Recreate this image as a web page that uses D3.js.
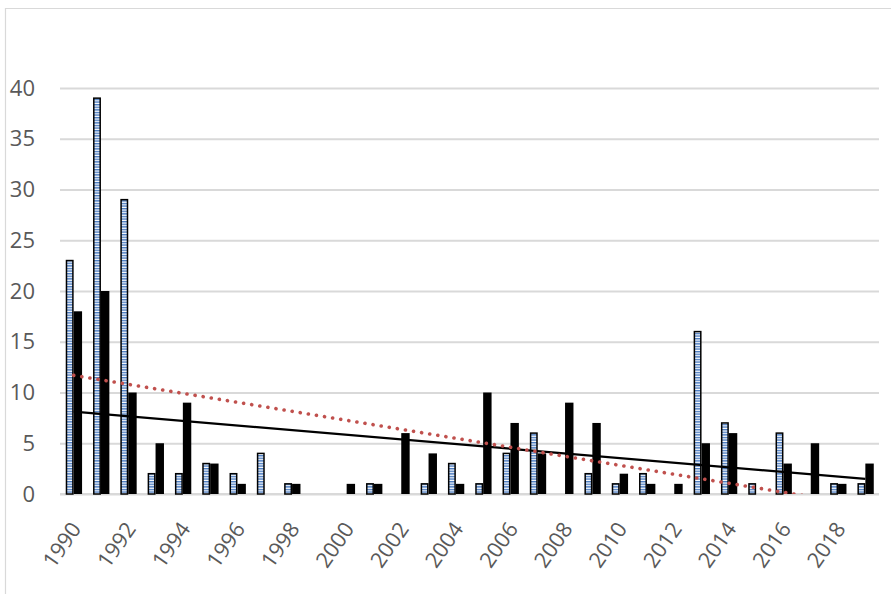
<!DOCTYPE html>
<html>
<head>
<meta charset="utf-8">
<script src="https://cdn.jsdelivr.net/npm/d3@7/dist/d3.min.js"></script>
<style>
  html, body { margin: 0; padding: 0; background: #fff; }
  svg { display: block; }
  text { font-family: "Open Sans", "Liberation Sans", sans-serif; fill: #595959; }
</style>
</head>
<body>
<svg id="chart" width="891" height="594"></svg>
<script>
// ---- data ----
const years = d3.range(1990, 2020).map(String);
const seriesStriped = [23, 39, 29, 2, 2, 3, 2, 4, 1, 0, 0, 1, 0, 1, 3, 1, 4, 6, 0, 2, 1, 2, 0, 16, 7, 1, 6, 0, 1, 1];
const seriesBlack   = [18, 20, 10, 5, 9, 3, 1, 0, 1, 0, 1, 1, 6, 4, 1, 10, 7, 4, 9, 7, 2, 1, 1, 5, 6, 0, 3, 5, 1, 3];
const yTicks = [0, 5, 10, 15, 20, 25, 30, 35, 40];
const xTickLabels = years.filter((d, i) => i % 2 === 0);

// ---- layout ----
const svg = d3.select("#chart");
const plot = { left: 60, right: 879, top: 88, bottom: 494 };

const x = d3.scaleBand().domain(years).range([plot.left, plot.right]).paddingInner(0).paddingOuter(0);
const y = d3.scaleLinear().domain([0, 40]).range([plot.bottom, plot.top]);

const defs = svg.append("defs");
const pat = defs.append("pattern")
  .attr("id", "stripes").attr("patternUnits", "userSpaceOnUse")
  .attr("width", 4).attr("height", 2.6);
pat.append("rect").attr("width", 4).attr("height", 2.6).attr("fill", "#ffffff");
pat.append("rect").attr("y", 0).attr("width", 4).attr("height", 1.4).attr("fill", "#4A7BC0");

defs.append("clipPath").attr("id", "plotclip")
  .append("rect").attr("x", plot.left).attr("y", 0)
  .attr("width", plot.right - plot.left).attr("height", plot.bottom);

// chart frame (partially cropped)
svg.append("path")
  .attr("d", "M5.5,600 L5.5,8.5 L900,8.5")
  .attr("fill", "none").attr("stroke", "#d9d9d9").attr("stroke-width", 1.2);

// gridlines
const yAxis = d3.axisLeft(y).tickValues(yTicks)
  .tickSize(-(plot.right - plot.left)).tickPadding(24).tickFormat(d3.format("d"));
const ga = svg.append("g").attr("transform", `translate(${plot.left},0)`).call(yAxis);
ga.select(".domain").remove();
ga.selectAll(".tick line").attr("stroke", "#d9d9d9").attr("stroke-width", 1.8);
ga.selectAll(".tick text").attr("font-size", 22).attr("fill", "#595959").attr("x", -25)
  .attr("font-family", "'Open Sans', sans-serif");

// x axis line
svg.append("line")
  .attr("x1", plot.left).attr("x2", plot.right)
  .attr("y1", y(0)).attr("y2", y(0))
  .attr("stroke", "#d9d9d9").attr("stroke-width", 2);

// bars
const barW = x.bandwidth() * 0.29;
const gBars = svg.append("g");
years.forEach((yr, i) => {
  const cx = x(yr) + x.bandwidth() / 2;
  const a = seriesStriped[i], b = seriesBlack[i];
  if (a > 0) {
    gBars.append("rect")
      .attr("x", cx - barW + 0.75).attr("y", y(a))
      .attr("width", barW - 1.5).attr("height", y(0) - y(a))
      .attr("fill", "url(#stripes)").attr("stroke", "#000").attr("stroke-width", 1.5);
  }
  if (b > 0) {
    gBars.append("rect")
      .attr("x", cx).attr("y", y(b))
      .attr("width", barW + 0.5).attr("height", y(0) - y(b))
      .attr("fill", "#000");
  }
});

// linear trendlines (least squares over category index 1..n)
function linreg(vals) {
  const n = vals.length;
  const xs = vals.map((v, i) => i + 1);
  const mx = d3.mean(xs), my = d3.mean(vals);
  let sxy = 0, sxx = 0;
  xs.forEach((xv, i) => { sxy += (xv - mx) * (vals[i] - my); sxx += (xv - mx) * (xv - mx); });
  const m = sxy / sxx, c = my - m * mx;
  return k => m * k + c;
}
const px = i => x(years[i]) + x.bandwidth() / 2;
const line = d3.line().x(d => px(d[0])).y(d => y(d[1]));

const fB = linreg(seriesBlack);
const fA = linreg(seriesStriped);
const n = years.length;

svg.append("path")
  .datum([[0, fB(1)], [n - 1, fB(n)]])
  .attr("d", line)
  .attr("fill", "none").attr("stroke", "#000").attr("stroke-width", 2.2)
  .attr("clip-path", "url(#plotclip)");

svg.append("path")
  .datum([[0, fA(1)], [n - 1, fA(n)]])
  .attr("d", line)
  .attr("fill", "none").attr("stroke", "#C0504D").attr("stroke-width", 3.6)
  .attr("stroke-linecap", "round").attr("stroke-dasharray", "0.1 8.1")
  .attr("clip-path", "url(#plotclip)");

// x tick labels
svg.append("g").selectAll("text")
  .data(xTickLabels).join("text")
  .attr("transform", d => `translate(${x(d) + x.bandwidth() / 2 + 8.5},${plot.bottom + 35}) rotate(-55)`)
  .attr("text-anchor", "end")
  .attr("font-size", 21.5)
  .text(d => d);
</script>
</body>
</html>
